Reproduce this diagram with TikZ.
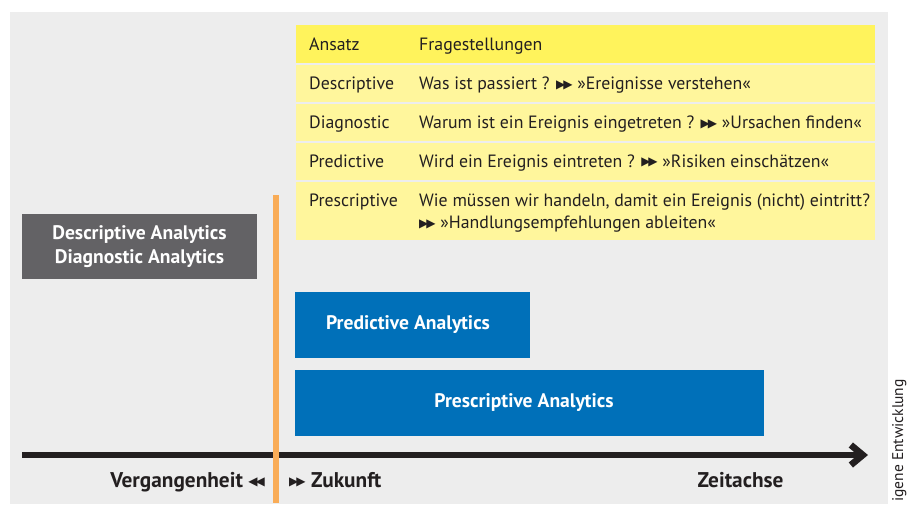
\documentclass[tikz,border=0pt]{standalone}
\usepackage{fontspec}
\setmainfont{PT Sans}
\newfontfamily\symfont{DejaVu Sans}
\usetikzlibrary{arrows.meta}
\definecolor{bg}{HTML}{EDEDED}
\definecolor{hdr}{HTML}{FFF35C}
\definecolor{rowc}{HTML}{FFF69C}
\definecolor{darkbox}{HTML}{636265}
\definecolor{bluebox}{HTML}{0070B9}
\definecolor{orng}{HTML}{F9AC57}
\definecolor{txt}{HTML}{231F20}
\newcommand\ffw{\raisebox{1.5pt}{\symfont\fontsize{12}{10}\selectfont ▶\kern-2pt▶}}
\newcommand\rrw{\raisebox{1.5pt}{\symfont\fontsize{12}{10}\selectfont ◀\kern-2pt◀}}
\tikzset{
  cell/.style={anchor=north west, inner sep=0pt, outer sep=0pt, minimum width=579pt},
  tabtxt/.style={anchor=base west, inner sep=0pt, text=txt, font=\fontsize{17.8}{22}\selectfont},
  boxlbl/.style={text=white, font=\bfseries\fontsize{19.6}{24}\selectfont, align=center, inner sep=0pt},
  fillbox/.style={anchor=north west, inner sep=0pt, outer sep=0pt},
  axlbl/.style={text=txt, font=\bfseries\fontsize{21.3}{24}\selectfont, inner sep=0pt},
  axisline/.style={draw=txt, line width=6.6pt, -{Straight Barb[length=12pt,width=20pt]}},
  nowline/.style={draw=orng, line width=6pt}
}
\begin{document}
\begin{tikzpicture}[x=1pt,y=-1pt]
\useasboundingbox (0,0) rectangle (919,504);
\fill[white] (0,0) rectangle (919,504);
\fill[bg] (10,12) rectangle (888,504);
% table
\node[cell, fill=hdr, minimum height=38pt] (r0) at (296,25) {};
\node[cell, fill=rowc, minimum height=37pt] (r1) at (296,65) {};
\node[cell, fill=rowc, minimum height=37pt] (r2) at (296,104) {};
\node[cell, fill=rowc, minimum height=37pt] (r3) at (296,143) {};
\node[cell, fill=rowc, minimum height=58pt] (r4) at (296,182) {};
\node[tabtxt] (a0) at (309,50) {Ansatz};
\node[tabtxt] (f0) at (419,50) {Fragestellungen};
\node[tabtxt] (a1) at (309,89.5) {Descriptive};
\node[tabtxt] (f1) at (419,89.5) {Was ist passiert ? \ffw{} »Ereignisse verstehen«};
\node[tabtxt] (a2) at (309,128.5) {Diagnostic};
\node[tabtxt] (f2) at (419,128.5) {Warum ist ein Ereignis eingetreten ? \ffw{} »Ursachen finden«};
\node[tabtxt] (a3) at (309,167) {Predictive};
\node[tabtxt] (f3) at (419,167) {Wird ein Ereignis eintreten ? \ffw{} »Risiken einschätzen«};
\node[tabtxt] (a4) at (309,206) {Prescriptive};
\node[tabtxt] (f4) at (419,206) {Wie müssen wir handeln, damit ein Ereignis (nicht) eintritt?};
\node[tabtxt] (f4b) at (419,228.5) {\ffw{} »Handlungsempfehlungen ableiten«};
% boxes
\node[fillbox, fill=darkbox, minimum width=235pt, minimum height=65pt] (dd) at (22,214) {};
\node[boxlbl] (ddl) at (dd.center) {Descriptive Analytics\\Diagnostic Analytics};
\node[fillbox, fill=bluebox, minimum width=235pt, minimum height=66pt] (pa) at (295,292) {};
\node[boxlbl] (pal) at (408,325) {Predictive Analytics};
\node[fillbox, fill=bluebox, minimum width=469pt, minimum height=66pt] (ps) at (295,370) {};
\node[boxlbl] (psl) at (524,403) {Prescriptive Analytics};
% axis
\coordinate (axL) at (22,455);
\coordinate (axR) at (868,455);
\draw[axisline] (axL) -- (axR);
\coordinate (nowT) at (276,195);
\coordinate (nowB) at (276,503);
\draw[nowline] (nowT) -- (nowB);
\node[axlbl, anchor=base east] (past) at (265,487) {Vergangenheit \rrw};
\node[axlbl, anchor=base west] (fut) at (289,487) {\ffw{} Zukunft};
\node[axlbl, anchor=base] (zeit) at (740.5,487) {Zeitachse};
% source (cut off in the reference)
\node[rotate=90, anchor=base west, inner sep=0pt, text=txt, font=\fontsize{15.5}{18}\selectfont] (src) at (903,502) {igene Entwicklung};
\end{tikzpicture}
\end{document}
